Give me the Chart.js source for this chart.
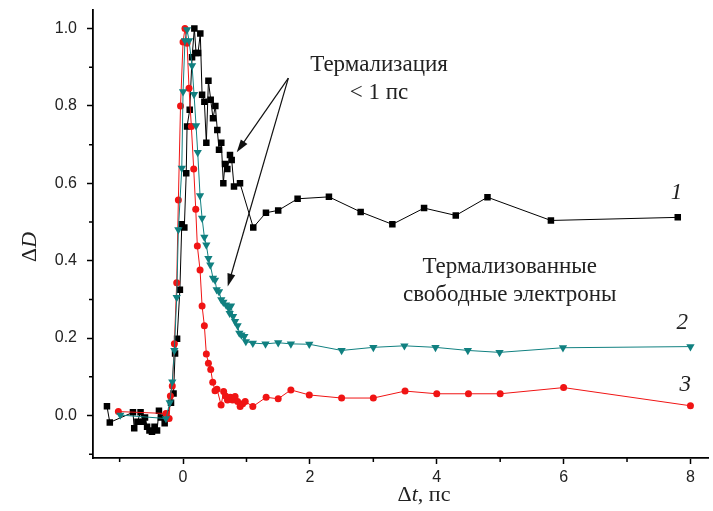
<!DOCTYPE html>
<html lang="ru">
<head>
<meta charset="UTF-8">
<title>Термализация</title>
<script src="https://cdn.jsdelivr.net/npm/chart.js"></script>
<style>
  body { margin: 0; background: #fff; }
  #wrap { width: 713px; height: 511px; }
</style>
</head>
<body>
<div id="wrap"><canvas id="chart" width="713" height="511"></canvas></div>
<script>
// tick positions
const xTicks = [-1, 0, 1, 2, 3, 4, 5, 6, 7, 8];
const yTicks = [-0.1, 0, 0.1, 0.2, 0.3, 0.4, 0.5, 0.6, 0.7, 0.8, 0.9, 1.0];

// curve 1 (black squares)
const blackT = [-1.2, -1.155, -0.79, -0.77, -0.72, -0.67, -0.63, -0.6, -0.567, -0.53, -0.49, -0.45, -0.41, -0.38, -0.35, -0.29,
  -0.19, -0.15, -0.126, -0.094, -0.05, -0.02, 0.02, 0.05, 0.063, 0.105, 0.142, 0.178, 0.205, 0.236, 0.272, 0.3, 0.336, 0.367,
  0.4, 0.436, 0.472, 0.509, 0.54, 0.567, 0.603, 0.635, 0.661, 0.698, 0.74, 0.767, 0.803, 0.898,
  1.107, 1.307, 1.5, 1.806, 2.3, 2.8, 3.3, 3.8, 4.3, 4.8, 5.8, 7.8];
const blackD = [0.024, -0.018, 0.008, -0.033, -0.016, 0.008, -0.016, -0.005, -0.029, -0.039, -0.042, -0.029, -0.039, 0.012, -0.005, -0.02,
  0.033, 0.057, 0.16, 0.198, 0.325, 0.494, 0.486, 0.626, 0.747, 0.79, 0.926, 1.0, 0.937, 0.937, 0.987, 0.829, 0.811, 0.705,
  0.865, 0.816, 0.768, 0.8, 0.738, 0.687, 0.705, 0.6, 0.65, 0.637, 0.673, 0.66, 0.592, 0.6,
  0.486, 0.524, 0.53, 0.56, 0.565, 0.526, 0.494, 0.536, 0.517, 0.564, 0.504, 0.512];

// curve 2 (teal triangles)
const tealT = [-0.99, -0.27, -0.21, -0.17, -0.137, -0.1, -0.074, -0.02, 0, 0.03, 0.063, 0.094, 0.142, 0.173, 0.205, 0.231, 0.268,
  0.3, 0.336, 0.367, 0.4, 0.43, 0.472, 0.504, 0.53, 0.567, 0.603, 0.635, 0.677, 0.72, 0.735, 0.756, 0.788, 0.82, 0.86, 0.887,
  0.92, 0.966, 0.99, 1.1, 1.3, 1.5, 1.7, 1.99, 2.5, 3.0, 3.49, 3.98, 4.49, 4.99, 5.99, 8.0];
const tealD = [0.001, -0.008, 0.033, 0.087, 0.168, 0.305, 0.48, 0.639, 0.837, 0.969, 0.997, 0.969, 0.904, 0.83, 0.749, 0.68, 0.568,
  0.51, 0.461, 0.441, 0.406, 0.389, 0.355, 0.35, 0.325, 0.32, 0.299, 0.293, 0.286, 0.277, 0.264, 0.283, 0.256, 0.243, 0.232, 0.213,
  0.208, 0.204, 0.191, 0.187, 0.185, 0.188, 0.185, 0.184, 0.168, 0.176, 0.18, 0.176, 0.168, 0.163, 0.175, 0.178];

// curve 3 (red circles)
const redT = [-1.02, -0.27, -0.22, -0.2, -0.17, -0.137, -0.1, -0.074, -0.04, 0, 0.03, 0.063, 0.094, 0.131, 0.168, 0.2, 0.225,
  0.268, 0.3, 0.336, 0.367, 0.4, 0.436, 0.468, 0.504, 0.535, 0.6, 0.64, 0.67, 0.7, 0.745, 0.78, 0.82, 0.86, 0.9, 0.94, 0.98,
  1.1, 1.31, 1.5, 1.7, 1.99, 2.5, 3.0, 3.5, 4.0, 4.5, 5.0, 6.0, 8.0];
const redD = [0.01, 0.005, -0.008, 0.05, 0.076, 0.185, 0.343, 0.557, 0.8, 0.965, 1.0, 0.962, 0.846, 0.747, 0.637, 0.533, 0.438,
  0.376, 0.283, 0.232, 0.159, 0.135, 0.119, 0.086, 0.064, 0.068, 0.027, 0.062, 0.05, 0.04, 0.047, 0.04, 0.049, 0.036, 0.023, 0.03, 0.036,
  0.023, 0.047, 0.043, 0.066, 0.053, 0.045, 0.045, 0.063, 0.056, 0.056, 0.056, 0.072, 0.025];

const toPts = (ts, ds) => ts.map((t, i) => ({ x: t, y: ds[i] }));
const isMinorX = v => Math.abs(Math.round(v)) % 2 === 1;
const isMinorY = v => Math.round(v * 10) % 2 !== 0 || v < -0.001;

const serif = "'Liberation Serif', 'DejaVu Serif', serif";

// axis titles, minor ticks, annotations
const decor = {
  id: 'decor',
  afterDraw(chart) {
    const { ctx, scales: { x, y } } = chart;
    ctx.save();
    ctx.strokeStyle = '#000';
    ctx.lineWidth = 1.5;
    ctx.beginPath();
    xTicks.filter(isMinorX).forEach(v => {
      const px = x.getPixelForValue(v);
      ctx.moveTo(px, x.top); ctx.lineTo(px, x.top + 4);
    });
    yTicks.filter(isMinorY).forEach(v => {
      const py = y.getPixelForValue(v);
      ctx.moveTo(y.right, py); ctx.lineTo(y.right - 4, py);
    });
    ctx.stroke();

    ctx.fillStyle = '#222';
    ctx.textBaseline = 'middle';

    // y title ΔD
    ctx.save();
    ctx.translate(30, 247);
    ctx.rotate(-Math.PI / 2);
    ctx.font = '22px ' + serif;
    const w1 = ctx.measureText('Δ').width;
    ctx.font = 'italic 22px ' + serif;
    const w2 = ctx.measureText('D').width;
    ctx.textAlign = 'left';
    ctx.font = '22px ' + serif;
    ctx.fillText('Δ', -(w1 + w2) / 2, 0);
    ctx.font = 'italic 22px ' + serif;
    ctx.fillText('D', -(w1 + w2) / 2 + w1, 0);
    ctx.restore();

    // x title Δt, пс
    const parts = [['Δ', ''], ['t', 'italic '], [', пс', '']];
    let total = 0;
    parts.forEach(p => { ctx.font = p[1] + '22px ' + serif; total += ctx.measureText(p[0]).width; });
    let cx = 424 - total / 2;
    ctx.textAlign = 'left';
    parts.forEach(p => {
      ctx.font = p[1] + '22px ' + serif;
      ctx.fillText(p[0], cx, 495);
      cx += ctx.measureText(p[0]).width;
    });

    // annotation texts
    ctx.textAlign = 'center';
    ctx.font = '23px ' + serif;
    ctx.fillText('Термализация', x.getPixelForValue(3.09), y.getPixelForValue(0.906));
    ctx.fillText('< 1 пс', x.getPixelForValue(3.09), y.getPixelForValue(0.834));
    ctx.fillText('Термализованные', x.getPixelForValue(5.15), y.getPixelForValue(0.383));
    ctx.fillText('свободные электроны', x.getPixelForValue(5.15), y.getPixelForValue(0.311));
    ctx.font = 'italic 23px ' + serif;
    ctx.fillText('1', x.getPixelForValue(7.78), y.getPixelForValue(0.575));
    ctx.fillText('2', x.getPixelForValue(7.87), y.getPixelForValue(0.238));
    ctx.fillText('3', x.getPixelForValue(7.92), y.getPixelForValue(0.079));

    // arrows
    const sx = x.getPixelForValue(1.66), sy = y.getPixelForValue(0.872);
    [[0.846, 0.68], [0.704, 0.333]].forEach(([tx, ty]) => {
      const ex = x.getPixelForValue(tx), ey = y.getPixelForValue(ty);
      const a = Math.atan2(ey - sy, ex - sx);
      ctx.strokeStyle = '#111';
      ctx.fillStyle = '#111';
      ctx.lineWidth = 1.2;
      ctx.beginPath();
      ctx.moveTo(sx, sy);
      ctx.lineTo(ex - 10 * Math.cos(a), ey - 10 * Math.sin(a));
      ctx.stroke();
      ctx.beginPath();
      ctx.moveTo(ex, ey);
      ctx.lineTo(ex - 13 * Math.cos(a) + 4 * Math.sin(a), ey - 13 * Math.sin(a) - 4 * Math.cos(a));
      ctx.lineTo(ex - 13 * Math.cos(a) - 4 * Math.sin(a), ey - 13 * Math.sin(a) + 4 * Math.cos(a));
      ctx.closePath();
      ctx.fill();
    });
    ctx.restore();
  }
};

new Chart(document.getElementById('chart'), {
  type: 'line',
  data: {
    datasets: [
      {
        label: '1', data: toPts(blackT, blackD), order: 3,
        borderColor: '#000', backgroundColor: '#000', borderWidth: 1,
        pointStyle: 'rect', pointRadius: 4.6, pointBorderWidth: 0
      },
      {
        label: '3', data: toPts(redT, redD), order: 2,
        borderColor: '#f01414', backgroundColor: '#f01414', borderWidth: 1,
        pointStyle: 'circle', pointRadius: 3.5, pointBorderWidth: 0
      },
      {
        label: '2', data: toPts(tealT, tealD), order: 1,
        borderColor: '#108080', backgroundColor: '#108080', borderWidth: 1,
        pointStyle: 'triangle', rotation: 180, pointRadius: 4.8, pointBorderWidth: 0
      }
    ]
  },
  options: {
    responsive: false,
    animation: false,
    layout: { padding: { top: 10, right: 0, left: 0, bottom: 0 } },
    plugins: { legend: { display: false }, tooltip: { enabled: false } },
    scales: {
      x: {
        type: 'linear', min: -1.42, max: 8.28,
        afterBuildTicks: s => { s.ticks = xTicks.map(v => ({ value: v })); },
        afterFit: s => { s.height = 53; s.paddingLeft = 0; s.paddingRight = 0; },
        border: { color: '#000', width: 1.8 },
        grid: {
          drawOnChartArea: false, tickLength: 6, tickWidth: 1.5,
          tickColor: c => (c.tick && isMinorX(c.tick.value)) ? 'rgba(0,0,0,0)' : '#000'
        },
        ticks: {
          padding: 4, color: '#222', maxRotation: 0,
          font: { family: "'Liberation Sans', Arial, sans-serif", size: 16 },
          callback: v => isMinorX(v) ? '' : String(v)
        }
      },
      y: {
        type: 'linear', min: -0.11, max: 1.048,
        afterBuildTicks: s => { s.ticks = yTicks.map(v => ({ value: v })); },
        afterFit: s => { s.width = 93; s.paddingTop = 0; s.paddingBottom = 0; },
        border: { color: '#000', width: 1.8 },
        grid: {
          drawOnChartArea: false, tickLength: 6, tickWidth: 1.5,
          tickColor: c => (c.tick && isMinorY(c.tick.value)) ? 'rgba(0,0,0,0)' : '#000'
        },
        ticks: {
          padding: 10, color: '#222',
          font: { family: "'Liberation Sans', Arial, sans-serif", size: 16 },
          callback: v => isMinorY(v) ? '' : v.toFixed(1)
        }
      }
    }
  },
  plugins: [decor]
});
</script>
</body>
</html>
